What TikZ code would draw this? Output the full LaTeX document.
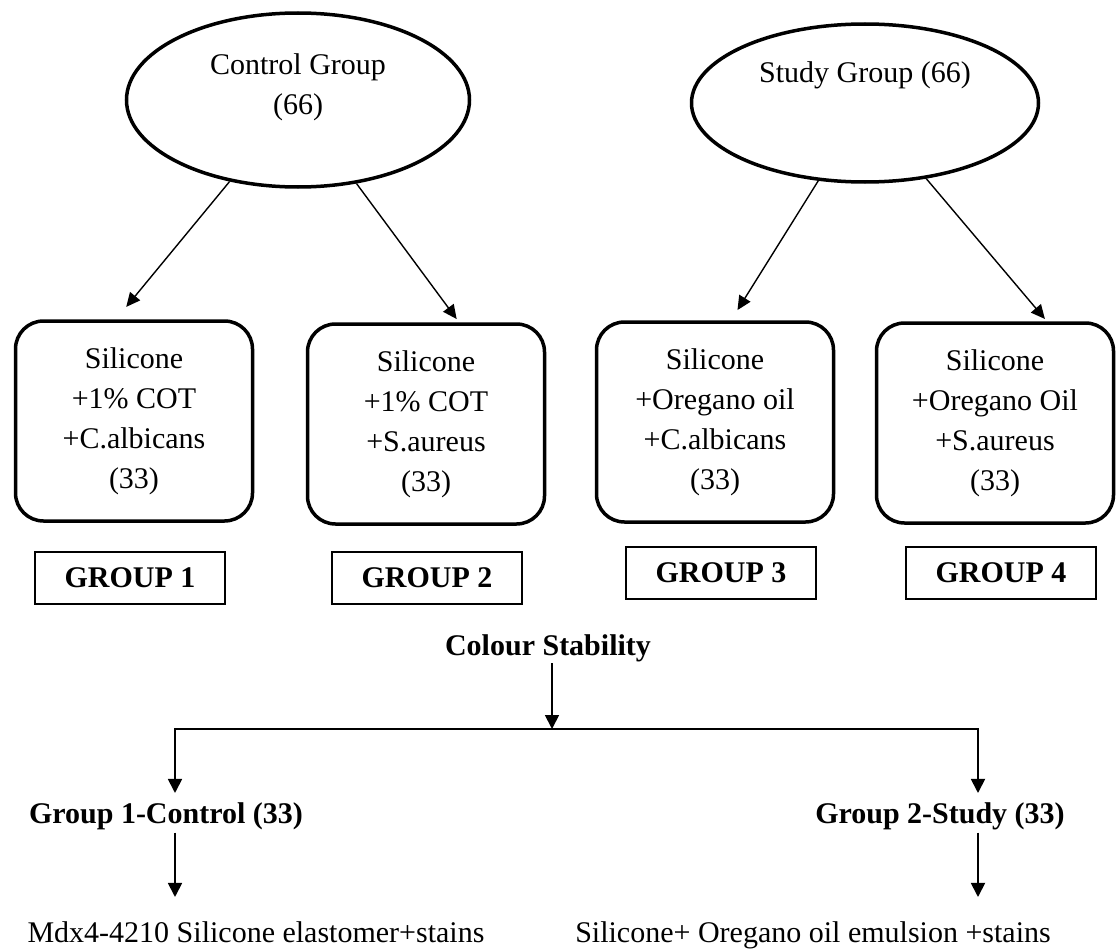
\documentclass[tikz,border=0pt]{standalone}
\usepackage{fontspec}
\setmainfont{Liberation Serif}
\usetikzlibrary{shapes.geometric, arrows.meta, positioning, calc}
\tikzset{
    grp/.style={ellipse, draw=black, line width=3.5pt, minimum width=343pt, minimum height=174pt, inner sep=0pt},
    lbl/.style={align=center, font=\fontsize{30}{40}\selectfont, inner sep=0pt},
    sample/.style={rectangle, rounded corners=28pt, draw=black, line width=3.5pt, minimum width=237pt, minimum height=200pt, align=center, font=\fontsize{30}{40}\selectfont},
    tag/.style={rectangle, draw=black, line width=1.6pt, minimum width=190pt, minimum height=52pt, font=\fontsize{30}{36}\selectfont\bfseries},
    head/.style={font=\fontsize{30}{36}\selectfont\bfseries, inner sep=0pt},
    plain/.style={font=\fontsize{30}{36}\selectfont, inner sep=0pt},
    arr/.style={-{Triangle[length=14pt, width=13pt]}, line width=1.4pt},
    barr/.style={-{Triangle[length=14pt, width=14pt]}, line width=1.8pt}
}
\begin{document}
\begin{tikzpicture}[x=1pt, y=-1pt]
        \useasboundingbox (0,0) rectangle (1117,950);

        % the two groups
        \node[grp] (ctrl) at (298,100) {};
        \node[lbl] (ctrltxt) at (298,87) {Control Group\\(66)};
        \node[grp, minimum width=347pt, minimum height=158pt] (study) at (865,103) {};
        \node[lbl, anchor=base] (studytxt) at (865,83) {Study Group (66)};

        % samples
        \node[sample] (s1) at (134,421) {Silicone\\+1\% COT\\+C.albicans\\(33)};
        \node[sample] (s2) at (426,424) {Silicone\\+1\% COT\\+S.aureus\\(33)};
        \node[sample] (s3) at (715,422) {Silicone\\+Oregano oil\\+C.albicans\\(33)};
        \node[sample] (s4) at (995,423) {Silicone\\+Oregano Oil\\+S.aureus\\(33)};

        \node[tag] (g1) at (130,578) {GROUP 1};
        \node[tag] (g2) at (427,578) {GROUP 2};
        \node[tag] (g3) at (721,573) {GROUP 3};
        \node[tag] (g4) at (1001,573) {GROUP 4};

        \draw[arr, shorten >=16pt] (ctrl.230) -- (s1.100);
        \draw[arr, shorten >=4pt] (ctrl.305) -- (s2.72);
        \draw[arr, shorten >=12pt] (study.239) -- (s3.81);
        \draw[arr, shorten >=3pt] (study.309) -- (s4.63);

        % colour stability
        \node[head, anchor=base] (colour) at (548,655) {Colour Stability};
        \coordinate (split) at (552,729);
        \coordinate (lft) at (175,729);
        \coordinate (rgt) at (978,729);
        \node[head, anchor=base] (ctlgrp) at (166,823) {Group 1-Control (33)};
        \node[head, anchor=base] (stdgrp) at (940,823) {Group 2-Study (33)};
        \node[plain, anchor=base] (ctlmat) at (256,942) {Mdx4-4210 Silicone elastomer+stains};
        \node[plain, anchor=base] (stdmat) at (813,942) {Silicone+ Oregano oil emulsion +stains};

        \draw[barr, shorten <=1.5pt] (colour.south -| split) -- (split);
        \draw[barr, shorten >=9pt] (split) -| (ctlgrp.north -| lft);
        \draw[barr, shorten >=9pt] (split) -| (stdgrp.north -| rgt);
        \draw[barr, shorten <=3pt, shorten >=24pt] (ctlgrp.south -| lft) -- (ctlmat.north -| lft);
        \draw[barr, shorten <=3pt, shorten >=24pt] (stdgrp.south -| rgt) -- (stdmat.north -| rgt);
    \end{tikzpicture}
\end{document}
